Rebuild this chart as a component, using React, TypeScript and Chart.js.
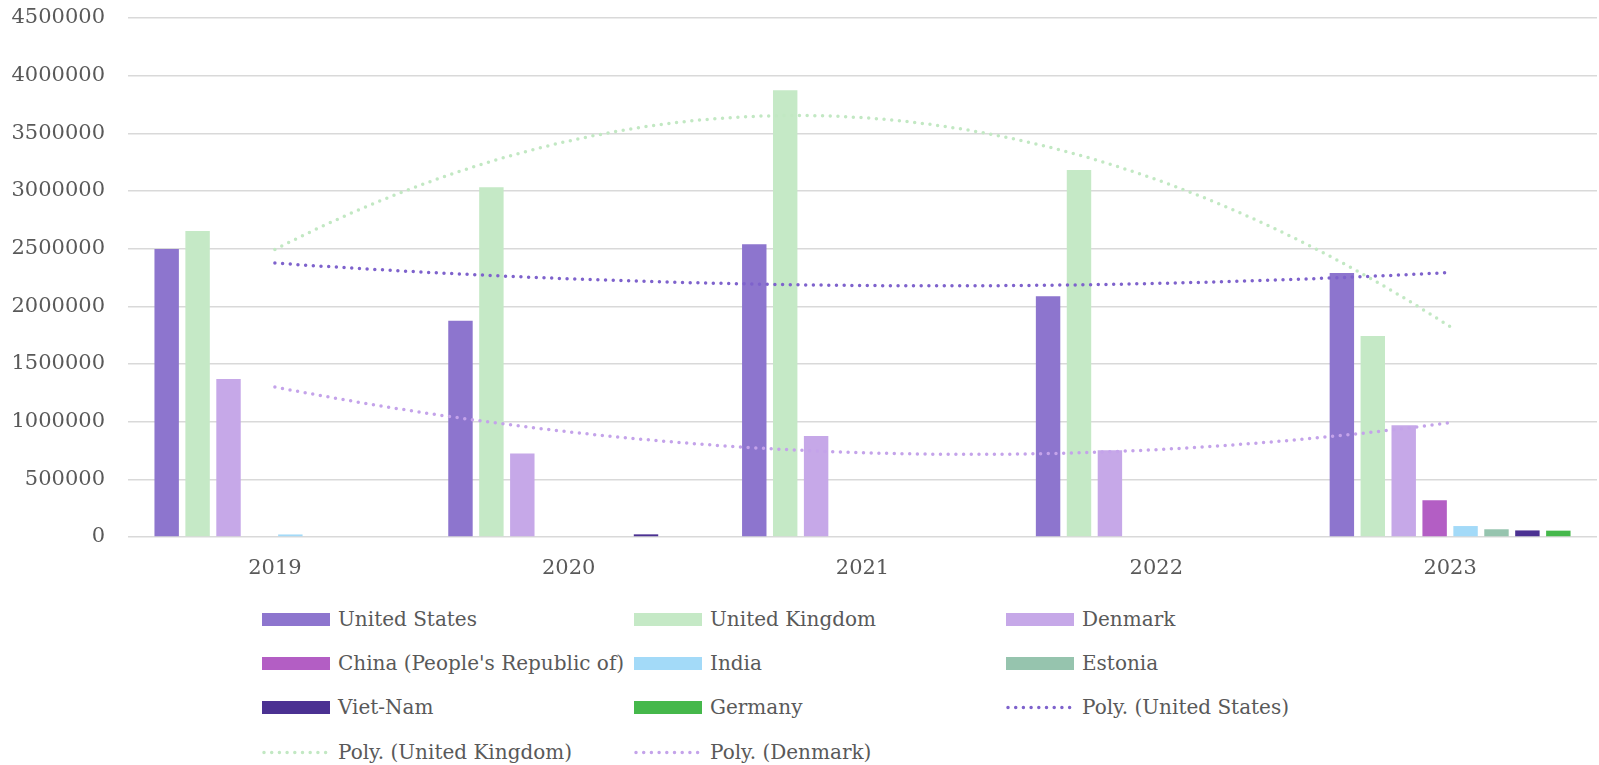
import React, { useEffect, useRef } from "react";
import { Chart, registerables } from "chart.js";

Chart.register(...registerables);

const years = ["2019", "2020", "2021", "2022", "2023"];
const unitedStates = [2498000, 1874000, 2538000, 2087000, 2290000];
const unitedKingdom = [2653000, 3033000, 3873000, 3183000, 1742000];
const denmark = [1370000, 725000, 875000, 752000, 970000];
const china = [null, null, null, null, 318000];
const india = [22000, null, null, null, 95000];
const estonia = [null, null, null, null, 67000];
const vietNam = [null, 23000, null, null, 57000];
const germany = [null, null, null, null, 55000];
const yTicks = [0, 500000, 1000000, 1500000, 2000000, 2500000, 3000000, 3500000, 4000000, 4500000];

const barSeries = [
  { label: "United States", data: unitedStates, color: "#8D75CE" },
  { label: "United Kingdom", data: unitedKingdom, color: "#C5E9C6" },
  { label: "Denmark", data: denmark, color: "#C6A8E8" },
  { label: "China (People's Republic of)", data: china, color: "#B35EC4" },
  { label: "India", data: india, color: "#A3DAF8" },
  { label: "Estonia", data: estonia, color: "#96C4AE" },
  { label: "Viet-Nam", data: vietNam, color: "#4B3192" },
  { label: "Germany", data: germany, color: "#45B84B" },
];

const trendSeries = [
  { label: "Poly. (United States)", data: unitedStates, color: "#7E62CC" },
  { label: "Poly. (United Kingdom)", data: unitedKingdom, color: "#C2E8C3" },
  { label: "Poly. (Denmark)", data: denmark, color: "#C4A3EA" },
];

// quadratic least-squares fit (Excel polynomial trendline, order 2), x = 1..n
function fitQuadratic(ys: number[]) {
  const n = ys.length;
  let s0 = 0, s1 = 0, s2 = 0, s3 = 0, s4 = 0, t0 = 0, t1 = 0, t2 = 0;
  for (let i = 0; i < n; i++) {
    const x = i + 1;
    const y = ys[i];
    s0 += 1; s1 += x; s2 += x * x; s3 += x * x * x; s4 += x * x * x * x;
    t0 += y; t1 += x * y; t2 += x * x * y;
  }
  const M = [
    [s0, s1, s2, t0],
    [s1, s2, s3, t1],
    [s2, s3, s4, t2],
  ];
  for (let c = 0; c < 3; c++) {
    for (let r = c + 1; r < 3; r++) {
      const f = M[r][c] / M[c][c];
      for (let k = c; k < 4; k++) M[r][k] -= f * M[c][k];
    }
  }
  const b = [0, 0, 0];
  for (let r = 2; r >= 0; r--) {
    let s = M[r][3];
    for (let k = r + 1; k < 3; k++) s -= M[r][k] * b[k];
    b[r] = s / M[r][r];
  }
  return (x: number) => b[0] + b[1] * x + b[2] * x * x;
}

const trendPlugin = {
  id: "trendlines",
  afterDatasetsDraw(chart: any) {
    const { ctx, chartArea, scales } = chart;
    const xs = scales.x;
    const ys = scales.y;
    ctx.save();
    ctx.beginPath();
    ctx.rect(chartArea.left, chartArea.top - 3, chartArea.right - chartArea.left, chartArea.bottom - chartArea.top + 3);
    ctx.clip();
    trendSeries.forEach((t) => {
      const f = fitQuadratic(t.data);
      const n = t.data.length;
      const steps = 300;
      ctx.beginPath();
      for (let i = 0; i <= steps; i++) {
        const idx = ((n - 1) * i) / steps;
        const px = xs.getPixelForValue(idx);
        const py = ys.getPixelForValue(f(idx + 1));
        if (i === 0) ctx.moveTo(px, py);
        else ctx.lineTo(px, py);
      }
      ctx.strokeStyle = t.color;
      ctx.lineWidth = 3.5;
      ctx.lineCap = "round";
      ctx.setLineDash([0, 7.7]);
      ctx.stroke();
    });
    ctx.restore();
  },
};

const FONT = "'DejaVu Serif', serif";
const TEXT = "#595959";

function Swatch({ color, dotted }: { color: string; dotted?: boolean }) {
  if (dotted) {
    return (
      <svg width={68} height={13} style={{ display: "block" }}>
        <line x1={2} y1={6.5} x2={66} y2={6.5} stroke={color} strokeWidth={3.5} strokeLinecap="round" strokeDasharray="0 7.7" />
      </svg>
    );
  }
  return <div style={{ width: 68, height: 13, background: color }} />;
}

export default function App() {
  const ref = useRef<HTMLCanvasElement | null>(null);

  useEffect(() => {
    const canvas = ref.current;
    if (!canvas) return;
    const datasets: any[] = barSeries.map((s) => ({
      type: "bar",
      label: s.label,
      data: s.data,
      backgroundColor: s.color,
      borderWidth: 0,
      categoryPercentage: 0.842,
      barPercentage: 0.79,
    }));

    const chart = new Chart(canvas, {
      type: "bar",
      data: { labels: years, datasets },
      plugins: [trendPlugin],
      options: {
        responsive: false,
        animation: false,
        devicePixelRatio: 1,
        layout: { padding: { top: 18, right: 2, left: 0, bottom: 0 } },
        plugins: { legend: { display: false }, tooltip: { enabled: false } },
        scales: {
          x: {
            type: "category",
            offset: true,
            grid: { display: false, drawTicks: false },
            border: { display: false },
            ticks: { font: { family: FONT, size: 21 }, color: TEXT, padding: 19 },
            afterFit: (s: any) => {
              s.height = 53;
              s.paddingLeft = 0;
              s.paddingRight = 0;
            },
          },
          y: {
            min: yTicks[0],
            max: yTicks[yTicks.length - 1],
            afterBuildTicks: (s: any) => {
              s.ticks = yTicks.map((v) => ({ value: v }));
            },
            grid: { color: "#D9D9D9", lineWidth: 1.5, drawTicks: false },
            border: { display: false },
            ticks: {
              font: { family: FONT, size: 21 },
              color: TEXT,
              padding: 23,
              callback: (v: any) => String(v),
            },
            afterFit: (s: any) => {
              s.width = 128;
              s.paddingTop = 0;
              s.paddingBottom = 0;
            },
          },
        } as any,
      },
    });
    return () => chart.destroy();
  }, []);

  const legendItems = [
    ...barSeries.map((s) => ({ label: s.label, color: s.color, dotted: false })),
    ...trendSeries.map((t) => ({ label: t.label, color: t.color, dotted: true })),
  ];
  const colX = [262, 634, 1006];
  const rowY = [619, 663, 707, 752];

  return (
    <div style={{ position: "absolute", left: 0, top: 0, width: 1599, height: 765, background: "#fff", overflow: "hidden" }}>
      <canvas ref={ref} width={1599} height={590} style={{ position: "absolute", left: 0, top: 0, width: 1599, height: 590 }} />
      {legendItems.map((it, i) => {
        const c = i % 3;
        const r = Math.floor(i / 3);
        return (
          <div
            key={it.label}
            style={{
              position: "absolute",
              left: colX[c],
              top: rowY[r] - 14,
              height: 28,
              display: "flex",
              alignItems: "center",
              whiteSpace: "nowrap",
              fontFamily: FONT,
              fontSize: 20,
              color: TEXT,
            }}
          >
            <Swatch color={it.color} dotted={it.dotted} />
            <span style={{ marginLeft: 8 }}>{it.label}</span>
          </div>
        );
      })}
    </div>
  );
}
